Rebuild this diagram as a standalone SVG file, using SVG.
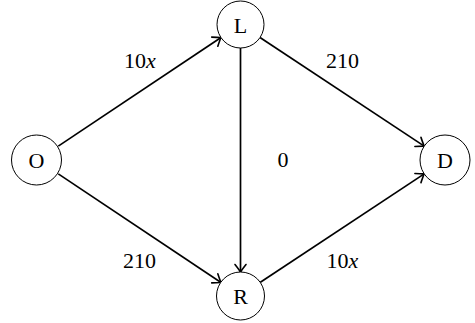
<svg xmlns="http://www.w3.org/2000/svg" width="475" height="323" viewBox="0 0 475 323">
<style>
.node circle{fill:#fff;stroke:#000;stroke-width:1}
.node text,.lbl{font-family:"Liberation Serif","DejaVu Serif",serif;font-size:22px;fill:#000;text-anchor:middle}
.edge{stroke:#000;stroke-width:1.7;fill:none;marker-end:url(#arr)}
</style>
<defs>
<marker id="arr" viewBox="-10 -8 12 16" refX="0" refY="0" markerWidth="12" markerHeight="16" markerUnits="userSpaceOnUse" orient="auto">
<path d="M -7.5 -5.5 Q -2 -1.2 0 0 Q -2 1.2 -7.5 5.5" fill="none" stroke="#000" stroke-width="1.6" stroke-linecap="round"/>
</marker>
</defs>
<rect width="475" height="323" fill="#fff"/>
<g id="connectors">
<line class="edge" x1="58.3" y1="146.1" x2="221" y2="37.5"/>
<line class="edge" x1="260" y1="37.5" x2="424.2" y2="146.1"/>
<line class="edge" x1="58.3" y1="173.9" x2="221" y2="282.5"/>
<line class="edge" x1="260" y1="282.5" x2="424.2" y2="173.9"/>
<line class="edge" x1="240.5" y1="48" x2="240.5" y2="272"/>
<text class="lbl" x="140" y="68">10<tspan font-style="italic">x</tspan></text>
<text class="lbl" x="342.5" y="68">210</text>
<text class="lbl" x="283" y="167">0</text>
<text class="lbl" x="139.5" y="268">210</text>
<text class="lbl" x="342.5" y="268">10<tspan font-style="italic">x</tspan></text>
</g>
<g id="O" class="node"><circle cx="36.5" cy="160" r="25"/><text x="36.5" y="168">O</text></g>
<g id="L" class="node"><circle cx="240.5" cy="24.5" r="23.5"/><text x="240.5" y="32.5">L</text></g>
<g id="R" class="node"><circle cx="240.5" cy="296" r="24"/><text x="240.5" y="304">R</text></g>
<g id="D" class="node"><circle cx="445" cy="160" r="25"/><text x="445" y="168">D</text></g>
</svg>
